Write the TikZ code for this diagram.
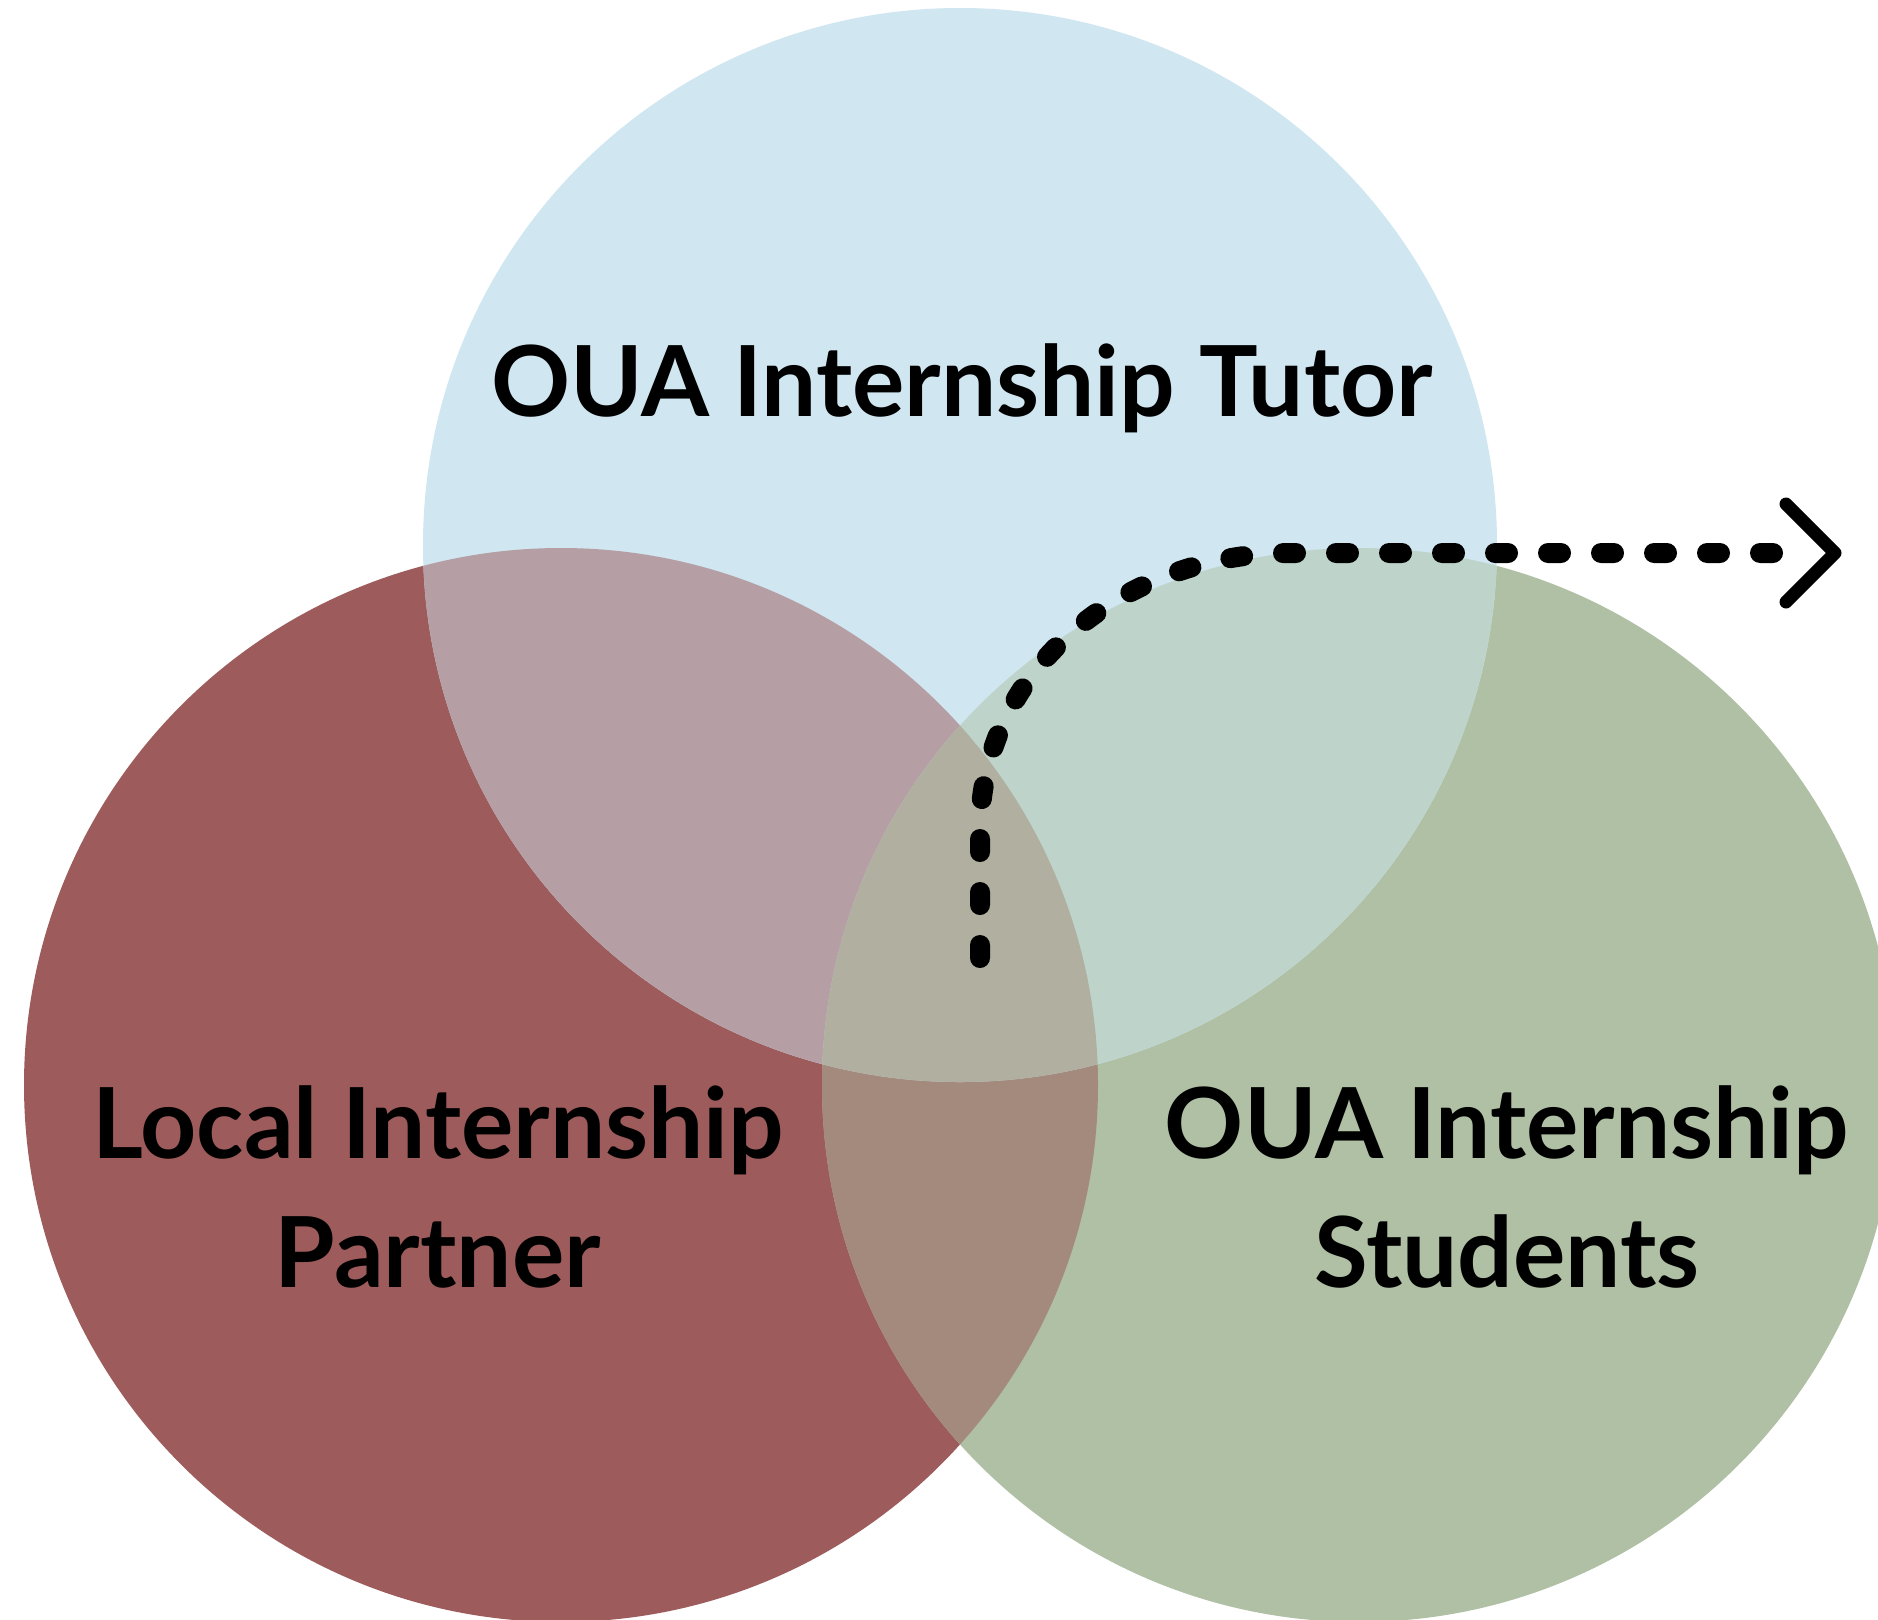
\documentclass[tikz,border=0pt]{standalone}
\usepackage{fontspec}
\setmainfont{Lato}
\definecolor{tutorblue}{HTML}{D0E6F0}
\definecolor{partnerred}{HTML}{9D5B5B}
\definecolor{studentgreen}{HTML}{AFC0A4}
\definecolor{bluered}{HTML}{B59FA5}
\definecolor{bluegreen}{HTML}{BED4CB}
\definecolor{redgreen}{HTML}{A48A7C}
\definecolor{allthree}{HTML}{B0AFA0}
\tikzset{
  venn label/.style={font=\fontsize{98}{129}\selectfont\bfseries, align=center},
  dash line/.style={line width=20pt, line cap=round, dash pattern=on 13pt off 40pt},
  barb/.style={line width=13pt, line cap=round, line join=round}
}
\def\tutorcirc{(960,545) circle[radius=537pt]}
\def\partnercirc{(561,1085) circle[radius=537pt]}
\def\studentcirc{(1359,1085) circle[radius=537pt]}
\begin{document}
\begin{tikzpicture}[x=1pt,y=-1pt]
  \useasboundingbox (0,0) rectangle (1878,1619);
  \clip (0,0) rectangle (1878,1619);
  \fill[white] (0,0) rectangle (1878,1619);
  \fill[partnerred] \partnercirc;
  \fill[studentgreen] \studentcirc;
  \fill[tutorblue] \tutorcirc;
  \begin{scope}
    \clip \partnercirc;
    \fill[redgreen] \studentcirc;
  \end{scope}
  \begin{scope}
    \clip \tutorcirc;
    \fill[bluered] \partnercirc;
    \fill[bluegreen] \studentcirc;
    \clip \partnercirc;
    \fill[allthree] \studentcirc;
  \end{scope}
  \node[venn label, anchor=base] (tutor) at (962,416) {OUA Internship Tutor};
  \node[venn label, anchor=base] (partner) at (438,1287) {Local Internship\\Partner};
  \node[venn label, anchor=base] (students) at (1507,1287) {OUA Internship\\Students};
  \coordinate (tip) at (1835,553);
  \coordinate (hend) at (1773,553);
  \coordinate (turn) at (1290,553);
  \coordinate (bend) at (980,830);
  \coordinate (start) at (980,962);
  \coordinate (barbtop) at (1786,504);
  \coordinate (barbbot) at (1786,602);
  \draw[dash line] (hend) -- (turn) to[out=180,in=90] (bend) -- (start);
  \draw[barb] (barbtop) -- (tip) -- (barbbot);
\end{tikzpicture}
\end{document}
